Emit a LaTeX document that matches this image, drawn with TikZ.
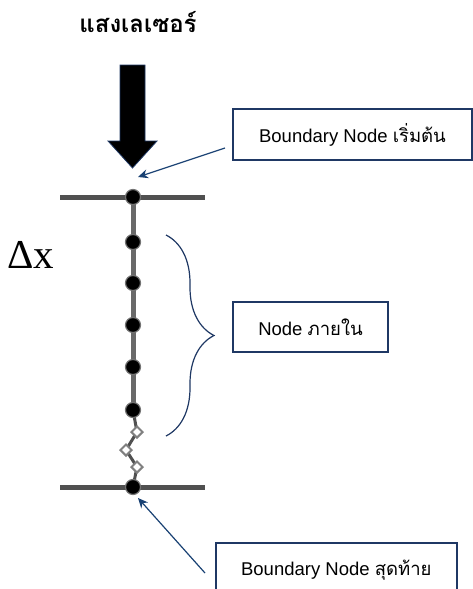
\documentclass[tikz,border=0pt]{standalone}
\usepackage{fontspec}
\setmainfont{Liberation Sans}
\newfontfamily\thai[Script=Thai]{Loma}
\newfontfamily\serifx{Liberation Serif}
\usetikzlibrary{decorations.pathreplacing,shapes.geometric,arrows.meta,backgrounds}
\definecolor{navy}{RGB}{31,56,100}
\definecolor{arrblue}{RGB}{25,65,115}
\definecolor{hline}{RGB}{80,80,80}
\definecolor{vline}{RGB}{105,105,105}
\begin{document}
\begin{tikzpicture}[x=1pt,y=-1pt,
  labelbox/.style={draw=navy,line width=1.6pt,fill=white,inner sep=0pt,font=\fontsize{18.5}{22}\selectfont},
  dotnode/.style={circle,fill=black,draw=black!55,line width=1.2pt,minimum size=15pt,inner sep=0pt},
  zig/.style={diamond,draw=gray,fill=white,line width=2pt,minimum size=12pt,inner sep=0pt},
  pointer/.style={draw=arrblue,line width=1.2pt,-{Stealth[length=10pt,width=9pt]}}]
\useasboundingbox (0,0) rectangle (473,589);
% title
\node[font=\thai\bfseries\fontsize{24}{28}\selectfont] (title) at (138,22) {แสงเลเซอร์};
% big arrow
\filldraw[fill=black,draw=navy,line width=0.8pt] (120,65) -- (145,65) -- (145,141) -- (157,141) -- (132.5,168) -- (108,141) -- (120,141) -- cycle;
% lines
\coordinate (tl) at (60,197); \coordinate (tr) at (205,197);
\coordinate (bl) at (60,487); \coordinate (br) at (205,487);
\draw[hline,line width=5pt] (tl) -- (tr);
\draw[hline,line width=5pt] (bl) -- (br);
\node[dotnode] (n0) at (133,197) {};
\node[dotnode] (n1) at (133,242) {};
\node[dotnode] (n2) at (133,283) {};
\node[dotnode] (n3) at (133,325) {};
\node[dotnode] (n4) at (133,367) {};
\node[dotnode] (n5) at (133,410) {};
\node[dotnode] (n6) at (133,487) {};
\node[zig] (z1) at (137,432) {};
\node[zig] (z2) at (126,450) {};
\node[zig] (z3) at (137,467) {};
\begin{scope}[on background layer]
\draw[vline,line width=5pt] (n0.center) -- (n1.center) -- (n2.center) -- (n3.center) -- (n4.center) -- (n5.center);
\draw[hline,line width=3pt] (n5.center) -- (z1.center) -- (z2.center) -- (z3.center) -- (n6.center);
\end{scope}
% delta x
\node[font=\serifx\fontsize{41}{46}\selectfont,anchor=base west,inner sep=0pt] (dx) at (7,268) {Δx};
% brace
\draw[navy,line width=1.2pt,decorate,decoration={brace,amplitude=48pt,aspect=0.5}] (166,235) -- (166,436);
% boxes
\node[labelbox,minimum width=239pt,minimum height=51pt] (b1) at (352.5,134.5) {Boundary Node {\thai เริ่มต้น}};
\node[labelbox,minimum width=155pt,minimum height=50pt] (b2) at (310.5,327) {Node {\thai ภายใน}};
\node[labelbox,minimum width=241pt,minimum height=54pt,anchor=north west] (b3) at (215,542) {Boundary Node {\thai สุดท้าย}};
% pointers
\coordinate (p1) at (225,148);
\coordinate (p1t) at (138,177);
\coordinate (p2) at (205,573);
\coordinate (p2t) at (138,498);
\draw[pointer] (p1) -- (p1t);
\draw[pointer] (p2) -- (p2t);
\end{tikzpicture}
\end{document}
